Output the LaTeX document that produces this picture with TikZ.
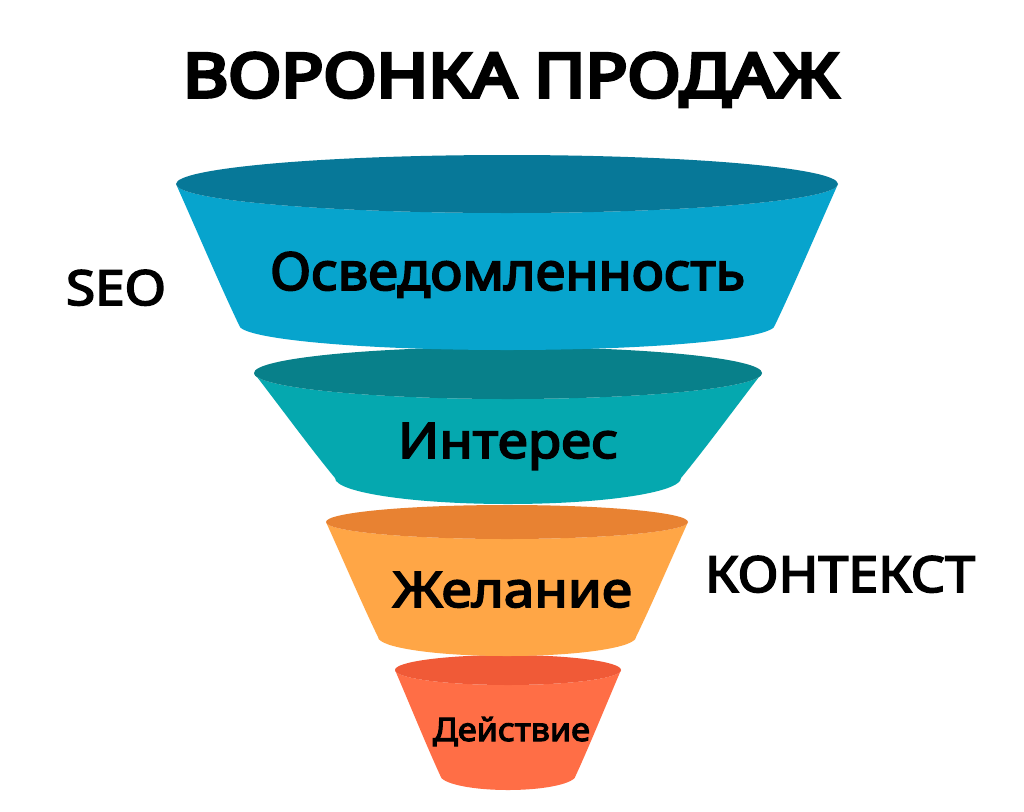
\documentclass[tikz,border=0pt]{standalone}
\usepackage{fontspec}
\usepackage{graphicx}
\setmainfont{Noto Sans}
\newfontfamily\heavyfont{Noto Sans}[FakeBold=6]
\newfontfamily\semiheavy{Noto Sans}[FakeBold=3.5]
\newlength\pxu
\setlength\pxu{0.75pt}
\newcommand{\fitt}[3]{\resizebox{#1\pxu}{#2\pxu}{#3}}
\definecolor{c1body}{HTML}{07A4CD}
\definecolor{c1top}{HTML}{077898}
\definecolor{c2body}{HTML}{05A8AF}
\definecolor{c2top}{HTML}{08808A}
\definecolor{c3body}{HTML}{FFA646}
\definecolor{c3top}{HTML}{E88232}
\definecolor{c4body}{HTML}{FF6E46}
\definecolor{c4top}{HTML}{F05A37}
\tikzset{
  lbl/.style={anchor=base west, inner sep=0pt, outer sep=0pt, text=black},
}
% #1 cx, #2 top cy, #3 top rx, #4 top ry, #5 bottom cy, #6 bottom rx, #7 bottom ry, #8 body, #9 top
\newcommand{\funnelseg}[9]{%
  \fill[#8] (#1-#3,#2) .. controls (#1-0.66*#3-0.34*#6,0.66*#2+0.34*#5) and (#1-0.3*#3-0.7*#6,0.28*#2+0.72*#5) .. (#1-#6,#5)
    arc[start angle=180,end angle=0,x radius=#6,y radius=#7]
    .. controls (#1+0.3*#3+0.7*#6,0.28*#2+0.72*#5) and (#1+0.66*#3+0.34*#6,0.66*#2+0.34*#5) .. (#1+#3,#2)
    arc[start angle=0,end angle=180,x radius=#3,y radius=#4] -- cycle;
  \fill[#9] (#1,#2) ellipse[x radius=#3,y radius=#4];
}
\begin{document}
\begin{tikzpicture}[x=0.75pt,y=-0.75pt]
\useasboundingbox (0,0) rectangle (1024,811);
\fill[white] (0,0) rectangle (1024,811);
\funnelseg{508}{670}{113}{15}{775}{68}{15}{c4body}{c4top}
\funnelseg{507}{522}{181}{17}{637}{129}{19}{c3body}{c3top}
\funnelseg{508}{373}{254}{26}{478}{173}{26}{c2body}{c2top}
\funnelseg{507}{184}{331}{29}{325}{268}{25}{c1body}{c1top}
\node[lbl] (title) at (183,97) {\fitt{655}{44}{\heavyfont ВОРОНКА ПРОДАЖ}};
\node[lbl] (seo) at (66,305) {\fitt{100}{35}{\semiheavy SEO}};
\node[lbl] (context) at (705,592) {\fitt{270}{36}{\semiheavy КОНТЕКСТ}};
\node[lbl] (aware) at (270,290) {\fitt{475}{38}{\semiheavy Осведомленность}};
\node[lbl] (interest) at (398,458) {\fitt{220}{35}{\semiheavy Интерес}};
\node[lbl] (desire) at (393,607) {\fitt{239}{35}{\semiheavy Желание}};
\node[lbl] (action) at (433,741) {\fitt{157}{24}{\semiheavy Действие}};
\end{tikzpicture}
\end{document}
